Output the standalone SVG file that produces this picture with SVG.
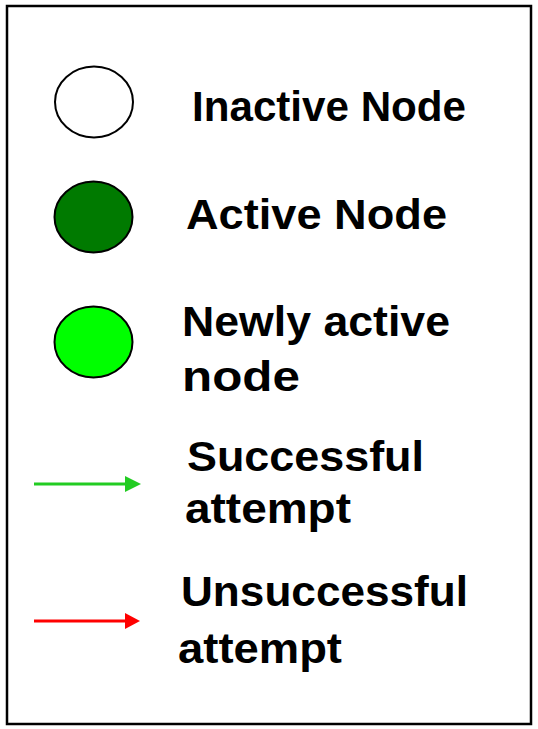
<svg xmlns="http://www.w3.org/2000/svg" width="538" height="729" viewBox="0 0 538 729">
<style>
  .lbl { font-family: "Liberation Sans", Arial, sans-serif; font-weight: bold; font-size: 43px; fill: #000; }
  .node { stroke: #000; stroke-width: 2; }
</style>
<rect x="0" y="0" width="538" height="729" fill="#fff"/>
<rect x="7" y="6" width="524" height="718" fill="#fff" stroke="#000" stroke-width="2.5"/>
<g id="inactive-node">
  <ellipse class="node" cx="94" cy="102" rx="39" ry="35.5" fill="#fff"/>
  <text class="lbl" x="192" y="121" textLength="274" lengthAdjust="spacingAndGlyphs">Inactive Node</text>
</g>
<g id="active-node">
  <ellipse class="node" cx="93.5" cy="217" rx="39" ry="35.5" fill="#007a00"/>
  <text class="lbl" x="186" y="229" textLength="261" lengthAdjust="spacingAndGlyphs">Active Node</text>
</g>
<g id="newly-active-node">
  <ellipse class="node" cx="93.5" cy="342" rx="39" ry="35.5" fill="#00ff00"/>
  <text class="lbl" x="182" y="335.5" textLength="268" lengthAdjust="spacingAndGlyphs">Newly active</text>
  <text class="lbl" x="182" y="391" textLength="118" lengthAdjust="spacingAndGlyphs">node</text>
</g>
<g id="connectors">
  <g id="successful-attempt">
    <line x1="34" y1="484" x2="127" y2="484" stroke="#22cc22" stroke-width="3"/>
    <polygon points="125,476 141,484 125,492" fill="#22cc22"/>
  </g>
  <g id="unsuccessful-attempt">
    <line x1="34" y1="621" x2="127" y2="621" stroke="#ff0000" stroke-width="3"/>
    <polygon points="125,613 140,621 125,629" fill="#ff0000"/>
  </g>
</g>
<g id="labels">
  <text class="lbl" x="187" y="471" textLength="237" lengthAdjust="spacingAndGlyphs">Successful</text>
  <text class="lbl" x="185" y="523" textLength="166" lengthAdjust="spacingAndGlyphs">attempt</text>
  <text class="lbl" x="181" y="606" textLength="287" lengthAdjust="spacingAndGlyphs">Unsuccessful</text>
  <text class="lbl" x="178" y="662.5" textLength="164" lengthAdjust="spacingAndGlyphs">attempt</text>
</g>
</svg>
